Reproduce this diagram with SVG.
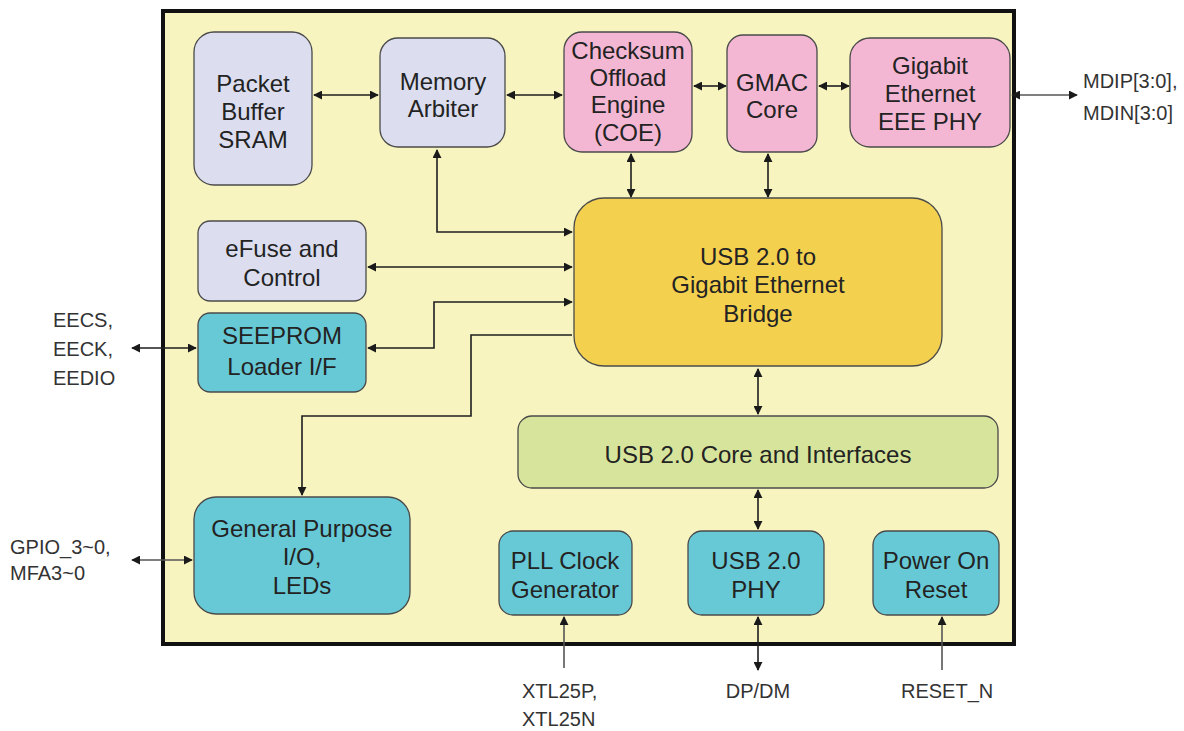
<svg xmlns="http://www.w3.org/2000/svg" width="1184" height="731" viewBox="0 0 1184 731">
<defs>
<marker id="ah" viewBox="0 0 10 10" refX="9" refY="5" markerWidth="9" markerHeight="9" markerUnits="userSpaceOnUse" orient="auto-start-reverse">
<path d="M0,0 L10,5 L0,10 z" fill="#1a1a1a"/>
</marker>
<style>
.box{stroke:#4a4a4a;stroke-width:1.3}
.lav{fill:#dcdef0}
.pink{fill:#f4b7d3}
.teal{fill:#67c9d6}
.gold{fill:#f4d04f}
.green{fill:#d7e49c}
.t{font-family:"Liberation Sans",Arial,sans-serif;font-size:24px;fill:#232323;text-anchor:middle}
.o{font-family:"Liberation Sans",Arial,sans-serif;font-size:20px;fill:#333}
.c{fill:none;stroke:#1e1e1e;stroke-width:1.6}
.cg{fill:none;stroke:#555;stroke-width:1.6}
</style>
</defs>
<rect width="1184" height="731" fill="#ffffff"/>
<rect id="frame" x="163" y="11" width="851" height="633" fill="#f7f4c0" stroke="#111" stroke-width="4"/>

<g id="connectors">
<line class="c" x1="314" y1="95" x2="378" y2="95" marker-start="url(#ah)" marker-end="url(#ah)"/>
<line class="c" x1="507" y1="95" x2="562" y2="95" marker-start="url(#ah)" marker-end="url(#ah)"/>
<line class="c" x1="694" y1="86" x2="726" y2="86" marker-start="url(#ah)" marker-end="url(#ah)"/>
<line class="c" x1="819" y1="86" x2="849" y2="86" marker-start="url(#ah)" marker-end="url(#ah)"/>
<line class="cg" x1="1012" y1="95" x2="1077" y2="95" marker-start="url(#ah)" marker-end="url(#ah)"/>
<line class="c" x1="631" y1="154" x2="631" y2="197" marker-start="url(#ah)" marker-end="url(#ah)"/>
<line class="c" x1="768" y1="154" x2="768" y2="197" marker-start="url(#ah)" marker-end="url(#ah)"/>
<polyline class="c" points="437,150 437,232 572,232" marker-start="url(#ah)" marker-end="url(#ah)"/>
<line class="c" x1="368" y1="267" x2="572" y2="267" marker-start="url(#ah)" marker-end="url(#ah)"/>
<polyline class="c" points="368,348 434,348 434,302 572,302" marker-start="url(#ah)" marker-end="url(#ah)"/>
<polyline class="c" points="572,335 471,335 471,416 302,416 302,495" marker-end="url(#ah)"/>
<line class="c" x1="132" y1="348" x2="196" y2="348" marker-start="url(#ah)" marker-end="url(#ah)"/>
<line class="cg" x1="132" y1="560" x2="192" y2="560" marker-start="url(#ah)" marker-end="url(#ah)"/>
<line class="c" x1="758" y1="369" x2="758" y2="414" marker-start="url(#ah)" marker-end="url(#ah)"/>
<line class="c" x1="758" y1="490" x2="758" y2="529" marker-start="url(#ah)" marker-end="url(#ah)"/>
<line class="cg" x1="564" y1="668" x2="564" y2="617" marker-end="url(#ah)"/>
<line class="c" x1="758" y1="617" x2="758" y2="670" marker-start="url(#ah)" marker-end="url(#ah)"/>
<line class="cg" x1="942" y1="670" x2="942" y2="617" marker-end="url(#ah)"/>
</g>

<g id="sram">
<rect class="box lav" x="194" y="32" width="118" height="153" rx="20"/>
<text class="t" x="253" y="92">Packet</text>
<text class="t" x="253" y="120">Buffer</text>
<text class="t" x="253" y="148">SRAM</text>
</g>
<g id="arbiter">
<rect class="box lav" x="380" y="38" width="125" height="109" rx="18"/>
<text class="t" x="443" y="90">Memory</text>
<text class="t" x="443" y="117">Arbiter</text>
</g>
<g id="coe">
<rect class="box pink" x="564" y="32" width="128" height="120" rx="18"/>
<text class="t" x="628" y="59">Checksum</text>
<text class="t" x="628" y="86">Offload</text>
<text class="t" x="628" y="113">Engine</text>
<text class="t" x="628" y="141">(COE)</text>
</g>
<g id="gmac">
<rect class="box pink" x="727" y="35" width="90" height="117" rx="16"/>
<text class="t" x="772" y="91">GMAC</text>
<text class="t" x="772" y="118">Core</text>
</g>
<g id="gephy">
<rect class="box pink" x="850" y="38" width="160" height="109" rx="20"/>
<text class="t" x="930" y="74">Gigabit</text>
<text class="t" x="930" y="102">Ethernet</text>
<text class="t" x="930" y="130">EEE PHY</text>
</g>
<g id="mdi-label">
<text class="o" x="1083" y="88">MDIP[3:0],</text>
<text class="o" x="1083" y="120">MDIN[3:0]</text>
</g>
<g id="bridge">
<rect class="box gold" x="574" y="198" width="368" height="168" rx="30"/>
<text class="t" x="758" y="265">USB 2.0 to</text>
<text class="t" x="758" y="293">Gigabit Ethernet</text>
<text class="t" x="758" y="322">Bridge</text>
</g>
<g id="efuse">
<rect class="box lav" x="198" y="221" width="168" height="80" rx="12"/>
<text class="t" x="282" y="257">eFuse and</text>
<text class="t" x="282" y="286">Control</text>
</g>
<g id="seeprom">
<rect class="box teal" x="198" y="313" width="168" height="79" rx="12"/>
<text class="t" x="282" y="344">SEEPROM</text>
<text class="t" x="282" y="375">Loader I/F</text>
</g>
<g id="ee-label">
<text class="o" x="53" y="327">EECS,</text>
<text class="o" x="53" y="356">EECK,</text>
<text class="o" x="53" y="385">EEDIO</text>
</g>
<g id="gpio">
<rect class="box teal" x="194" y="497" width="216" height="117" rx="22"/>
<text class="t" x="302" y="537">General Purpose</text>
<text class="t" x="302" y="565">I/O,</text>
<text class="t" x="302" y="594">LEDs</text>
</g>
<g id="gpio-label">
<text class="o" x="10" y="554">GPIO_3~0,</text>
<text class="o" x="10" y="580">MFA3~0</text>
</g>
<g id="usbcore">
<rect class="box green" x="518" y="416" width="480" height="72" rx="14"/>
<text class="t" x="758" y="463">USB 2.0 Core and Interfaces</text>
</g>
<g id="pll">
<rect class="box teal" x="499" y="531" width="133" height="84" rx="14"/>
<text class="t" x="565" y="569">PLL Clock</text>
<text class="t" x="565" y="598">Generator</text>
</g>
<g id="usbphy">
<rect class="box teal" x="688" y="531" width="136" height="84" rx="14"/>
<text class="t" x="756" y="569">USB 2.0</text>
<text class="t" x="756" y="598">PHY</text>
</g>
<g id="por">
<rect class="box teal" x="873" y="531" width="126" height="84" rx="14"/>
<text class="t" x="936" y="569">Power On</text>
<text class="t" x="936" y="598">Reset</text>
</g>
<g id="bottom-labels">
<text class="o" x="522" y="698">XTL25P,</text>
<text class="o" x="522" y="726">XTL25N</text>
<text class="o" x="758" y="698" text-anchor="middle">DP/DM</text>
<text class="o" x="901" y="698">RESET_N</text>
</g>
</svg>
